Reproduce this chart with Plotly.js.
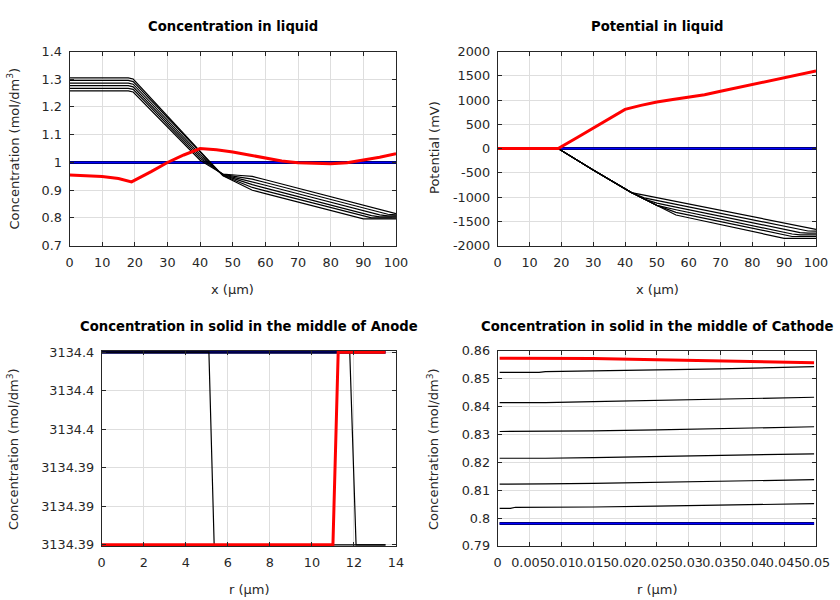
<!DOCTYPE html>
<html>
<head>
<meta charset="utf-8">
<script src="https://cdn.plot.ly/plotly-3.0.1.min.js"></script>
<style>html,body{margin:0;padding:0;background:#fff;}#chart{width:840px;height:600px;}</style>
</head>
<body>
<div id="chart"></div>
<script>
// ---------------- DATA ----------------
// Panel 1: Concentration in liquid (mol/dm3) vs x (um)
const xLiq = [0, 10, 18, 19.5, 21, 30, 40, 43.5, 47, 51.5, 56, 60, 70, 80, 90, 92.5, 95, 97.5, 100];
const liqInit = [1, 1, 1, 1, 1, 1, 1, 1, 1, 1, 1, 1, 1, 1, 1, 1, 1, 1, 1];
const liqT1 = [1.305, 1.305, 1.305, 1.301, 1.2821, 1.1689, 1.043, 0.9975, 0.952, 0.926, 0.900, 0.8878, 0.8573, 0.8268, 0.797, 0.797, 0.797, 0.797, 0.797];
const liqT2 = [1.2956, 1.2956, 1.2956, 1.2916, 1.2729, 1.1607, 1.036, 0.9946, 0.9532, 0.9316, 0.910, 0.8978, 0.8673, 0.8368, 0.8063, 0.8005, 0.8005, 0.8005, 0.8005];
const liqT3 = [1.2862, 1.2862, 1.2862, 1.2822, 1.2637, 1.1525, 1.029, 0.9917, 0.9544, 0.9372, 0.920, 0.9078, 0.8773, 0.8468, 0.8163, 0.8087, 0.804, 0.804, 0.804];
const liqT4 = [1.2768, 1.2768, 1.2768, 1.2728, 1.2544, 1.1443, 1.022, 0.9888, 0.9556, 0.9428, 0.930, 0.9178, 0.8873, 0.8568, 0.8263, 0.8187, 0.8111, 0.8075, 0.8075];
const liqT5 = [1.2674, 1.2674, 1.2674, 1.2634, 1.2452, 1.1362, 1.015, 0.9859, 0.9568, 0.9484, 0.940, 0.9278, 0.8973, 0.8668, 0.8363, 0.8287, 0.8211, 0.8134, 0.811];
const liqT6 = [1.258, 1.258, 1.258, 1.254, 1.236, 1.128, 1.008, 0.983, 0.958, 0.954, 0.950, 0.9378, 0.9073, 0.8768, 0.8463, 0.8387, 0.8311, 0.8234, 0.8158];
const xLiqFinal = [0, 5, 10, 15, 19, 25, 30, 35, 40, 45, 50, 55, 60, 65, 70, 75, 80, 85, 90, 95, 100];
const liqFinal = [0.955, 0.953, 0.949, 0.942, 0.930, 0.967, 1.000, 1.027, 1.050, 1.046, 1.038, 1.027, 1.015, 1.005, 0.999, 0.996, 0.995, 0.999, 1.008, 1.019, 1.032];

// Panel 2: Potential in liquid (mV) vs x (um)
const xPot = [0, 10, 19, 30, 40, 42, 46, 50, 56, 60, 70, 80, 90, 92.5, 95, 97.5, 100];
const potInit = [0, 0, 0, 0, 0, 0, 0, 0, 0, 0, 0, 0, 0, 0, 0, 0, 0];
const potT1 = [0, 0, 0, -440, -840, -906, -1038, -1170, -1368, -1424, -1565, -1706, -1848, -1848, -1848, -1848, -1848];
const potT2 = [0, 0, 0, -440, -840, -906, -1038, -1170, -1314, -1370, -1509, -1648, -1786, -1810, -1810, -1810, -1810];
const potT3 = [0, 0, 0, -440, -840, -906, -1038, -1170, -1260, -1314, -1451, -1588, -1724, -1759, -1775, -1775, -1775];
const potT4 = [0, 0, 0, -440, -840, -906, -1038, -1123, -1204, -1258, -1392, -1527, -1662, -1696, -1729, -1740, -1740];
const potT5 = [0, 0, 0, -440, -840, -906, -1014, -1067, -1147, -1200, -1333, -1465, -1598, -1631, -1664, -1697, -1700];
const potT6 = [0, 0, 0, -440, -840, -906, -958, -1010, -1089, -1141, -1271, -1402, -1532, -1565, -1598, -1630, -1663];
const xPotFinal = [0, 10, 19, 25, 30, 35, 40, 45, 50, 55, 60, 65, 70, 75, 80, 85, 90, 95, 100];
const potFinal = [0, 0, 0, 230, 420, 612, 808, 890, 958, 1010, 1060, 1108, 1180, 1250, 1320, 1395, 1472, 1540, 1600];

// Panel 3: Concentration in solid, middle of anode vs r (um)
const rAnode = [0, 5.1, 5.35, 11.0, 11.25, 11.8, 12.1, 13.5];
const anodeInit = [3134.397, 3134.397, 3134.397, 3134.397, 3134.397, 3134.397, 3134.397, 3134.397];
const anodeA = [3134.397, 3134.397, 3134.392, 3134.392, 3134.392, 3134.392, 3134.392, 3134.392];
const anodeB = [3134.397, 3134.397, 3134.397, 3134.397, 3134.397, 3134.397, 3134.392, 3134.392];
const anodeFinal = [3134.392, 3134.392, 3134.392, 3134.392, 3134.397, 3134.397, 3134.397, 3134.397];

// Panel 4: Concentration in solid, middle of cathode vs r (um)
const rCath = [0.0003, 0.002, 0.0028, 0.0065, 0.0075, 0.015, 0.025, 0.035, 0.045, 0.0497];
const cathInit = [0.7981, 0.7981, 0.7981, 0.7981, 0.7981, 0.7981, 0.7981, 0.7981, 0.7981, 0.7981];
const cathT1 = [0.8035, 0.8035, 0.8039, 0.8039, 0.8039, 0.8040, 0.8043, 0.8046, 0.8050, 0.8052];
const cathT2 = [0.8122, 0.8122, 0.8123, 0.8121, 0.8123, 0.8125, 0.8128, 0.8132, 0.8136, 0.8138];
const cathT3 = [0.8215, 0.8215, 0.8215, 0.8214, 0.8215, 0.8217, 0.8221, 0.8225, 0.8229, 0.8231];
const cathT4 = [0.8311, 0.8311, 0.8311, 0.8311, 0.8311, 0.8313, 0.8317, 0.8321, 0.8326, 0.8328];
const cathT5 = [0.8415, 0.8415, 0.8415, 0.8414, 0.8415, 0.8418, 0.8422, 0.8426, 0.8431, 0.8434];
const cathT6 = [0.8523, 0.8523, 0.8523, 0.8523, 0.8526, 0.8528, 0.8532, 0.8536, 0.8541, 0.8544];
const cathFinal = [0.8574, 0.8574, 0.8574, 0.8574, 0.8574, 0.8573, 0.8569, 0.8565, 0.8561, 0.8558];

// Tick values / labels
const xLiqTicks = [0, 10, 20, 30, 40, 50, 60, 70, 80, 90, 100];
const xLiqLabels = ['0', '10', '20', '30', '40', '50', '60', '70', '80', '90', '100'];
const yLiqTicks = [0.7, 0.8, 0.9, 1.0, 1.1, 1.2, 1.3, 1.4];
const yLiqLabels = ['0.7', '0.8', '0.9', '1', '1.1', '1.2', '1.3', '1.4'];
const yPotTicks = [-2000, -1500, -1000, -500, 0, 500, 1000, 1500, 2000];
const yPotLabels = ['-2000', '-1500', '-1000', '-500', '0', '500', '1000', '1500', '2000'];
const xAnodeTicks = [0, 2, 4, 6, 8, 10, 12, 14];
const xAnodeLabels = ['0', '2', '4', '6', '8', '10', '12', '14'];
const yAnodeTicks = [3134.392, 3134.393, 3134.394, 3134.395, 3134.396, 3134.397];
const yAnodeLabels = ['3134.39', '3134.39', '3134.39', '3134.4', '3134.4', '3134.4'];
const xCathTicks = [0, 0.005, 0.01, 0.015, 0.02, 0.025, 0.03, 0.035, 0.04, 0.045, 0.05];
const xCathLabels = ['0', '0.005', '0.01', '0.015', '0.02', '0.025', '0.03', '0.035', '0.04', '0.045', '0.05'];
const yCathTicks = [0.79, 0.80, 0.81, 0.82, 0.83, 0.84, 0.85, 0.86];
const yCathLabels = ['0.79', '0.8', '0.81', '0.82', '0.83', '0.84', '0.85', '0.86'];

// ---------------- STYLE / LAYOUT ----------------
const FONT = 'DejaVu Sans';
const AXC = '#262626';
const W = 840, H = 600;
const fx = p => p / W;
const fy = p => 1 - p / H;

function panelTraces(x, init, blacks, xf, fin, xa, ya) {
  const t = [];
  t.push({x: x, y: init, xaxis: xa, yaxis: ya, mode: 'lines', line: {color: '#000000', width: 3}, hoverinfo: 'skip'});
  t.push({x: x, y: init, xaxis: xa, yaxis: ya, mode: 'lines', line: {color: '#0000ff', width: 2}, hoverinfo: 'skip'});
  blacks.forEach(b => t.push({x: x, y: b, xaxis: xa, yaxis: ya, mode: 'lines', line: {color: '#000000', width: 1.2}, hoverinfo: 'skip'}));
  t.push({x: xf, y: fin, xaxis: xa, yaxis: ya, mode: 'lines', line: {color: '#ff0000', width: 3}, hoverinfo: 'skip'});
  return t;
}

const data = [].concat(
  panelTraces(xLiq, liqInit, [liqT1, liqT2, liqT3, liqT4, liqT5, liqT6], xLiqFinal, liqFinal, 'x', 'y'),
  panelTraces(xPot, potInit, [potT1, potT2, potT3, potT4, potT5, potT6], xPotFinal, potFinal, 'x2', 'y2'),
  panelTraces(rAnode, anodeInit, [anodeA, anodeB], rAnode, anodeFinal, 'x3', 'y3'),
  panelTraces(rCath, cathInit, [cathT1, cathT2, cathT3, cathT4, cathT5, cathT6], rCath, cathFinal, 'x4', 'y4')
);

function axis(domain, range, vals, texts, anchor, isX) {
  return {
    domain: domain, range: range, anchor: anchor,
    tickmode: 'array', tickvals: vals, ticktext: texts,
    ticks: 'inside', ticklen: 4, tickwidth: 1, tickcolor: AXC,
    showline: true, linecolor: AXC, linewidth: 1, mirror: 'ticks',
    showgrid: true, gridcolor: '#dedede', gridwidth: 1, zeroline: false,
    tickangle: 0, ticklabelstandoff: isX ? 5 : 4,
    tickfont: {family: FONT, size: 12.8, color: AXC},
    fixedrange: true, automargin: false
  };
}

const dL = [fx(69.5), fx(396)], dR = [fx(497.7), fx(816)];
const dTop = [fy(245.7), fy(51.5)], dBot = [fy(546), fy(351)];
const dBL = [fx(101.7), fx(396)];
const padA = 0.00003;

const ann = [];
function txt(text, x, y, size, bold, angle) {
  ann.push({text: bold ? '<b>' + text + '</b>' : text, x: fx(x), y: fy(y), xref: 'paper', yref: 'paper',
    xanchor: 'center', yanchor: 'middle', showarrow: false, textangle: angle || 0,
    font: {family: FONT, size: size, color: bold ? '#000000' : AXC}});
}
txt('Concentration in liquid', 232.7, 26, 13.2, true);
txt('Potential in liquid', 657, 26, 13.2, true);
txt('Concentration in solid in the middle of Anode', 249, 326, 13.2, true);
txt('Concentration in solid in the middle of Cathode', 656.5, 326, 13.2, true);
txt('x (µm)', 232.7, 289, 13, false);
txt('x (µm)', 657, 289, 13, false);
txt('r (µm)', 249, 589, 13, false);
txt('r (µm)', 657, 589, 13, false);
txt('Concentration (mol/dm<sup>3</sup>)', 13, 148.5, 13, false, -90);
txt('Potential (mV)', 434, 148, 13, false, -90);
txt('Concentration (mol/dm<sup>3</sup>)', 13, 449, 13, false, -90);
txt('Concentration (mol/dm<sup>3</sup>)', 433, 449, 13, false, -90);

const layout = {
  width: W, height: H,
  margin: {l: 0, r: 0, t: 0, b: 0},
  paper_bgcolor: '#ffffff', plot_bgcolor: '#ffffff',
  showlegend: false,
  font: {family: FONT, size: 13, color: AXC},
  xaxis: axis(dL, [0, 100], xLiqTicks, xLiqLabels, 'y', true),
  yaxis: axis(dTop, [0.7, 1.4], yLiqTicks, yLiqLabels, 'x', false),
  xaxis2: axis(dR, [0, 100], xLiqTicks, xLiqLabels, 'y2', true),
  yaxis2: axis(dTop, [-2000, 2000], yPotTicks, yPotLabels, 'x2', false),
  xaxis3: axis(dBL, [0, 14], xAnodeTicks, xAnodeLabels, 'y3', true),
  yaxis3: axis(dBot, [3134.392 - padA, 3134.397 + padA], yAnodeTicks, yAnodeLabels, 'x3', false),
  xaxis4: axis(dR, [0, 0.05], xCathTicks, xCathLabels, 'y4', true),
  yaxis4: axis(dBot, [0.79, 0.86], yCathTicks, yCathLabels, 'x4', false),
  annotations: ann
};

Plotly.newPlot('chart', data, layout, {staticPlot: true, displayModeBar: false});
</script>
</body>
</html>
